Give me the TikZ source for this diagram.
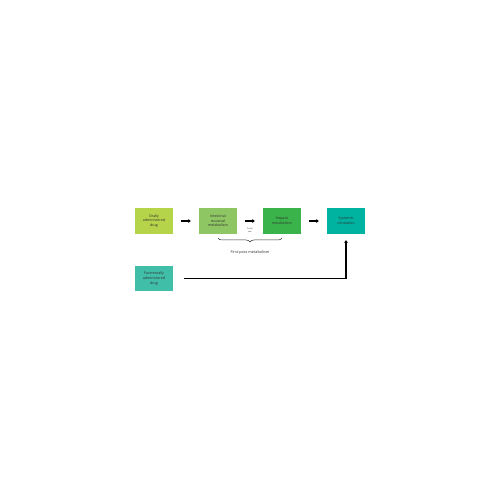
\documentclass[tikz,border=0pt]{standalone}
\usepackage{fontspec}
\setmainfont{Open Sans}
\usetikzlibrary{arrows.meta,decorations.pathreplacing}
\definecolor{cA}{RGB}{181,212,73}
\definecolor{cB}{RGB}{141,198,99}
\definecolor{cC}{RGB}{58,180,74}
\definecolor{cD}{RGB}{0,178,160}
\definecolor{cE}{RGB}{64,190,168}
\definecolor{txt}{RGB}{50,50,50}
\tikzset{
  box/.style={minimum width=38pt,minimum height=26pt,inner sep=0pt,align=center,
    text=txt,font=\fontsize{3.6}{4.6}\selectfont},
  conn/.style={line width=1.6pt,-{Triangle[length=2.4pt,width=3.6pt]}},
}
\begin{document}
\begin{tikzpicture}[x=1pt,y=1pt]
\useasboundingbox[fill=white] (0,0) rectangle (500,500);
\node[box,fill=cA] (b1) at (154,279) {Orally\\administered\\drug};
\node[box,fill=cB] (b2) at (218,279) {Intestinal\\mucosal\\metabolism};
\node[box,fill=cC] (b3) at (282,279) {Hepatic\\metabolism};
\node[box,fill=cD] (b4) at (346,279) {Systemic\\circulation};
\node[box,fill=cE,minimum height=25pt] (b5) at (154,221.5) {Parenterally\\administered\\drug};
\draw[conn,shorten <=8pt,shorten >=8pt] (b1.east) -- (b2.west);
\draw[conn,shorten <=8pt,shorten >=8pt] (b2.east) -- (b3.west);
\draw[conn,shorten <=8pt,shorten >=8pt] (b3.east) -- (b4.west);
\node[align=center,text=txt,font=\fontsize{2}{2.8}\selectfont,inner sep=0pt] (pv) at (250,270) {Portal\\vein};
\coordinate (bl) at (218,262);
\coordinate (br) at (282,262);
\draw[txt,line width=0.5pt,decorate,decoration={brace,mirror,amplitude=4pt}] (bl) -- (br);
\node[text=txt,font=\fontsize{3.8}{4.6}\selectfont,inner sep=0pt] (fp) at (250,247) {First-pass metabolism};
\draw[conn,shorten <=11pt,shorten >=6pt] (b5.east) -| (b4.south);
\end{tikzpicture}
\end{document}
